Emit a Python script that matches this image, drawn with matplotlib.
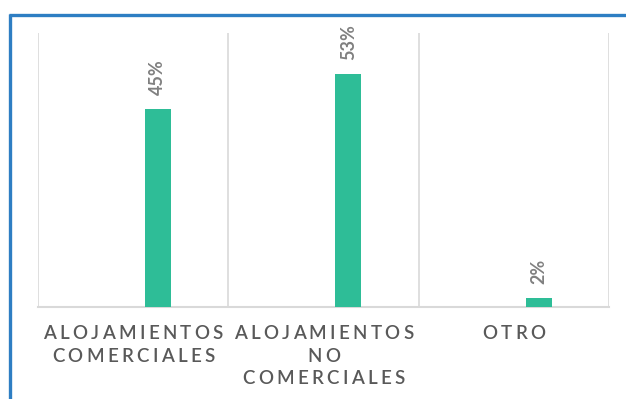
import numpy as np
import matplotlib.pyplot as plt
from matplotlib.lines import Line2D
from matplotlib.font_manager import FontProperties

categorias = ['ALOJAMIENTOS\nCOMERCIALES', 'ALOJAMIENTOS\nNO\nCOMERCIALES', 'OTRO']
porcentajes = [0.45, 0.53, 0.02]
etiquetas = ['45%', '53%', '2%']

VERDE = '#2EBD97'
GRIS_TEXTO = '#595959'
GRIS_LINEA = '#D9D9D9'
AZUL_MARCO = '#2E7EC3'

W, H = 626, 399
fig = plt.figure(figsize=(W / 100, H / 100), dpi=100)
ax = fig.add_axes([38 / W, (H - 307) / H, (609 - 38) / W, (307 - 33) / H])

x = np.arange(len(categorias))
ax.bar(x + 0.13, porcentajes, width=0.137, color=VERDE, zorder=3)

ax.set_xlim(-0.5, len(categorias) - 0.5)
ax.set_ylim(0, 0.623)
for b in np.arange(len(categorias) + 1) - 0.5:
    ax.axvline(b, color=GRIS_LINEA, lw=1.2, zorder=1)

for s in ['top', 'left', 'right']:
    ax.spines[s].set_visible(False)
ax.spines['bottom'].set_color(GRIS_LINEA)
ax.spines['bottom'].set_linewidth(1.5)
ax.set_xticks([])
ax.set_yticks([])

# etiquetas de valor, giradas sobre cada barra
for xi, v, txt in zip(x, porcentajes, etiquetas):
    ax.annotate(txt, (xi + 0.13, v), xytext=(0, 10), textcoords='offset points',
                rotation=90, ha='center', va='bottom', fontsize=13,
                family='Lato', fontweight='bold', color='#808080')

# nombres de categoria con espaciado entre letras
renderer = fig.canvas.get_renderer()
prop = FontProperties(family='Lato', size=13.5, weight='semibold')
espacio = 3.3
base_px = [32, 55, 77]

for xi, nombre in zip(x, categorias):
    cx = ax.transData.transform((xi, 0))[0]
    for k, linea in enumerate(nombre.split('\n')):
        anchos = [renderer.get_text_width_height_descent(c, prop, ismath=False)[0]
                  for c in linea]
        total = sum(anchos) + espacio * (len(linea) - 1)
        px = cx - total / 2
        py = (H - 307) - base_px[k]
        for c, w in zip(linea, anchos):
            fig.text(px / W, py / H, c, fontproperties=prop, color=GRIS_TEXTO,
                     ha='left', va='baseline')
            px += w + espacio

# marco azul superior e izquierdo
fig.add_artist(Line2D([8.5 / W, 1], [1 - 15 / H, 1 - 15 / H], color=AZUL_MARCO,
                      lw=2.4, transform=fig.transFigure, solid_capstyle='butt'))
fig.add_artist(Line2D([9.5 / W, 9.5 / W], [0, 1 - 14 / H], color=AZUL_MARCO,
                      lw=2.4, transform=fig.transFigure, solid_capstyle='butt'))

fig.savefig('out.png', dpi=100)
